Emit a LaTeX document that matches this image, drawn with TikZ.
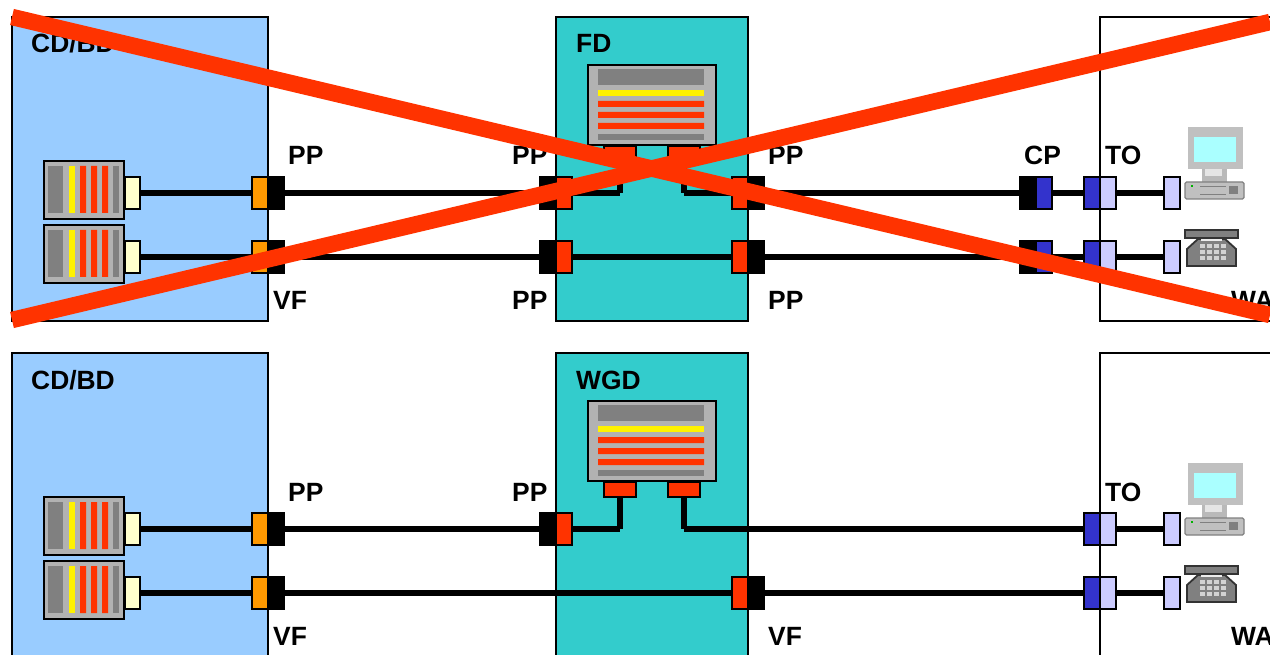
\documentclass[tikz,border=0pt]{standalone}
\usepackage{fontspec}
\setmainfont{Liberation Sans}
\definecolor{panelblue}{HTML}{99CCFF}
\definecolor{panelteal}{HTML}{33CCCC}
\definecolor{xred}{HTML}{FF3300}
\definecolor{porange}{HTML}{FF9900}
\definecolor{pblue}{HTML}{3333CC}
\definecolor{plight}{HTML}{CCCCFF}
\definecolor{pcream}{HTML}{FFFFCC}
\definecolor{sgrey}{HTML}{B2B2B2}
\definecolor{dgrey}{HTML}{808080}
\definecolor{pcscreen}{HTML}{AAFFFF}
\definecolor{pcgrey}{HTML}{C0C0C0}
\tikzset{
  boxed/.style={draw=black,line width=2.5pt,inner sep=0pt,outer sep=0pt},
  panel/.style={draw=black,line width=1.6pt,inner sep=0pt,outer sep=0pt},
  wire/.style={draw=black,line width=6pt},
  lab/.style={anchor=base west,inner sep=0pt,font=\bfseries\fontsize{26.4}{30}\selectfont},
  cross/.style={draw=xred,line width=16.5pt},
}
% name, style, x1, y1, x2, y2
\newcommand{\bx}[6]{\node[#2,minimum width={((#5)-(#3))*1pt},minimum height={((#6)-(#4))*1pt}] (#1) at ({((#3)+(#5))/2},{((#4)+(#6))/2}) {};}
\newcommand{\smallserver}[2]{% name, top y
  \bx{#1}{boxed,fill=sgrey}{44}{#2}{124}{#2+58}
  \begin{scope}[shift={(0,#2)}]
    \fill[dgrey] (48,5) rectangle (63,52);
    \fill[yellow] (69,5) rectangle (75,52);
    \fill[xred] (80,5) rectangle (86,52) (91,5) rectangle (97,52) (102,5) rectangle (108,52);
    \fill[dgrey] (113,5) rectangle (119,52);
  \end{scope}
}
\newcommand{\bigserver}[2]{% name, dy
  \bx{#1}{boxed,fill=sgrey}{588}{65+#2}{716}{145+#2}
  \begin{scope}[shift={(0,#2)}]
    \fill[dgrey] (598,69) rectangle (704,85);
    \fill[yellow] (598,90) rectangle (704,96);
    \fill[xred] (598,101) rectangle (704,107) (598,112) rectangle (704,118) (598,123) rectangle (704,129);
    \fill[dgrey] (598,134) rectangle (704,140);
  \end{scope}
}
\newcommand{\computer}[1]{% dy
  \begin{scope}[shift={(0,#1)}]
    \fill[gray!55] (1202,505) rectangle (1227,518);
    \fill[gray!20] (1205,505) rectangle (1222,512);
    \fill[pcgrey] (1188,463) rectangle (1243,505);
    \fill[pcscreen] (1194,473) rectangle (1236,498);
    \filldraw[fill=pcgrey,draw=gray,line width=1.2pt,rounded corners=1.5pt] (1185,518) rectangle (1244,535);
    \fill[gray] (1229,522) rectangle (1238,530);
    \fill[green!70!black] (1191,521) rectangle (1193,523);
    \draw[gray,line width=.7pt] (1200,522) -- (1226,522) (1200,530) -- (1226,530);
  \end{scope}
}
\newcommand{\phone}[1]{% dy
  \begin{scope}[shift={(0,#1)}]
    \filldraw[fill=dgrey,draw=black!80,line width=1.6pt] (1185,566) rectangle (1238,574);
    \filldraw[fill=dgrey,draw=black!80,line width=1.8pt] (1187,602) -- (1187,585) -- (1198,575) -- (1225,575) -- (1236,585) -- (1236,602) -- cycle;
    \fill[gray!15] (1201,575) rectangle (1222,577);
    \foreach \bxi in {1200,1207,1214,1221}{
      \foreach \bxj in {580,586,592}{\fill[gray!35] (\bxi,\bxj) rectangle (\bxi+4.5,\bxj+4);}
    }
  \end{scope}
}
\begin{document}
\begin{tikzpicture}[x=1pt,y=-1pt]
\useasboundingbox (0,0) rectangle (1270,655);
\clip (0,0) rectangle (1270,655);
% ---------- panels
\bx{ublue}{panel,fill=panelblue}{12}{17}{268}{321}
\bx{uteal}{panel,fill=panelteal}{556}{17}{748}{321}
\bx{uwhite}{panel,fill=white}{1100}{17}{1300}{321}
\bx{lblue}{panel,fill=panelblue}{12}{353}{268}{700}
\bx{lteal}{panel,fill=panelteal}{556}{353}{748}{700}
\bx{lwhite}{panel,fill=white}{1100}{353}{1300}{700}
% ---------- labels
\node[lab] (t1) at (31,53) {CD/BD};
\node[lab] (t2) at (576,53) {FD};
\node[lab] (t3) at (288,165) {PP};
\node[lab] (t4) at (512,165) {PP};
\node[lab] (t5) at (768,165) {PP};
\node[lab] (t6) at (1024,165) {CP};
\node[lab] (t7) at (1105,165) {TO};
\node[lab] (t8) at (273,309) {VF};
\node[lab] (t9) at (512,309) {PP};
\node[lab] (t10) at (768,309) {PP};
\node[lab] (t11) at (1231,309) {WA};
\node[lab] (t12) at (31,389) {CD/BD};
\node[lab] (t13) at (576,389) {WGD};
\node[lab] (t14) at (288,501) {PP};
\node[lab] (t15) at (512,501) {PP};
\node[lab] (t16) at (1105,501) {TO};
\node[lab] (t17) at (273,645) {VF};
\node[lab] (t18) at (768,645) {VF};
\node[lab] (t19) at (1231,645) {WA};
% ---------- upper half: equipment
\smallserver{sa}{161}
\smallserver{sb}{225}
\bigserver{ub}{0}
\bx{ubp1}{boxed,fill=xred}{604}{146}{636}{161}
\bx{ubp2}{boxed,fill=xred}{668}{146}{700}{161}
\coordinate (uk1) at (620,193);
\coordinate (uk2) at (684,193);
% row 1
\bx{ca}{boxed,fill=pcream}{125}{177}{140}{209}
\bx{oa}{boxed,fill=porange}{252}{177}{268}{209}
\bx{ka}{boxed,fill=black}{268}{177}{284}{209}
\bx{kb}{boxed,fill=black}{540}{177}{556}{209}
\bx{rb}{boxed,fill=xred}{556}{177}{572}{209}
\bx{rc}{boxed,fill=xred}{732}{177}{748}{209}
\bx{kc}{boxed,fill=black}{748}{177}{764}{209}
\bx{kd}{boxed,fill=black}{1020}{177}{1036}{209}
\bx{bd}{boxed,fill=pblue}{1036}{177}{1052}{209}
\bx{be}{boxed,fill=pblue}{1084}{177}{1100}{209}
\bx{le}{boxed,fill=plight}{1100}{177}{1116}{209}
\bx{lf}{boxed,fill=plight}{1164}{177}{1180}{209}
% row 2
\bx{cA}{boxed,fill=pcream}{125}{241}{140}{273}
\bx{oA}{boxed,fill=porange}{252}{241}{268}{273}
\bx{kA}{boxed,fill=black}{268}{241}{284}{273}
\bx{kB}{boxed,fill=black}{540}{241}{556}{273}
\bx{rB}{boxed,fill=xred}{556}{241}{572}{273}
\bx{rC}{boxed,fill=xred}{732}{241}{748}{273}
\bx{kC}{boxed,fill=black}{748}{241}{764}{273}
\bx{kD}{boxed,fill=black}{1020}{241}{1036}{273}
\bx{bD}{boxed,fill=pblue}{1036}{241}{1052}{273}
\bx{bE}{boxed,fill=pblue}{1084}{241}{1100}{273}
\bx{lE}{boxed,fill=plight}{1100}{241}{1116}{273}
\bx{lF}{boxed,fill=plight}{1164}{241}{1180}{273}
% upper wires
\draw[wire] (ca.east) -- (oa.west);
\draw[wire] (ka.east) -- (kb.west);
\draw[wire] (rb.east) -- (uk1);
\draw[wire] (ubp1.south) -- (uk1);
\draw[wire] (ubp2.south) -- (uk2);
\draw[wire] (uk2) -- (rc.west);
\draw[wire] (kc.east) -- (kd.west);
\draw[wire] (bd.east) -- (be.west);
\draw[wire] (le.east) -- (lf.west);
\draw[wire] (cA.east) -- (oA.west);
\draw[wire] (kA.east) -- (kB.west);
\draw[wire] (rB.east) -- (rC.west);
\draw[wire] (kC.east) -- (kD.west);
\draw[wire] (bD.east) -- (bE.west);
\draw[wire] (lE.east) -- (lF.west);
\computer{-336}
\phone{-336}
% ---------- lower half: equipment
\smallserver{sc}{497}
\smallserver{sd}{561}
\bigserver{lb}{336}
\bx{lbp1}{boxed,fill=xred}{604}{482}{636}{497}
\bx{lbp2}{boxed,fill=xred}{668}{482}{700}{497}
\coordinate (lk1) at (620,529);
\coordinate (lk2) at (684,529);
% row 3
\bx{cc}{boxed,fill=pcream}{125}{513}{140}{545}
\bx{oc}{boxed,fill=porange}{252}{513}{268}{545}
\bx{kg}{boxed,fill=black}{268}{513}{284}{545}
\bx{kh}{boxed,fill=black}{540}{513}{556}{545}
\bx{rh}{boxed,fill=xred}{556}{513}{572}{545}
\bx{bh}{boxed,fill=pblue}{1084}{513}{1100}{545}
\bx{lh}{boxed,fill=plight}{1100}{513}{1116}{545}
\bx{li}{boxed,fill=plight}{1164}{513}{1180}{545}
% row 4
\bx{cC}{boxed,fill=pcream}{125}{577}{140}{609}
\bx{oC}{boxed,fill=porange}{252}{577}{268}{609}
\bx{kG}{boxed,fill=black}{268}{577}{284}{609}
\bx{rJ}{boxed,fill=xred}{732}{577}{748}{609}
\bx{kJ}{boxed,fill=black}{748}{577}{764}{609}
\bx{bH}{boxed,fill=pblue}{1084}{577}{1100}{609}
\bx{lH}{boxed,fill=plight}{1100}{577}{1116}{609}
\bx{lI}{boxed,fill=plight}{1164}{577}{1180}{609}
% lower wires
\draw[wire] (cc.east) -- (oc.west);
\draw[wire] (kg.east) -- (kh.west);
\draw[wire] (rh.east) -- (lk1);
\draw[wire] (lbp1.south) -- (lk1);
\draw[wire] (lbp2.south) -- (lk2);
\draw[wire] (lk2) -- (bh.west);
\draw[wire] (lh.east) -- (li.west);
\draw[wire] (cC.east) -- (oC.west);
\draw[wire] (kG.east) -- (rJ.west);
\draw[wire] (kJ.east) -- (bH.west);
\draw[wire] (lH.east) -- (lI.west);
\computer{0}
\phone{0}
% ---------- red cross
\coordinate (xa) at (12,17);
\coordinate (xb) at (1270,315);
\coordinate (xc) at (12,320);
\coordinate (xd) at (1270,22);
\draw[cross] (xa) -- (xb);
\draw[cross] (xc) -- (xd);
\end{tikzpicture}
\end{document}
